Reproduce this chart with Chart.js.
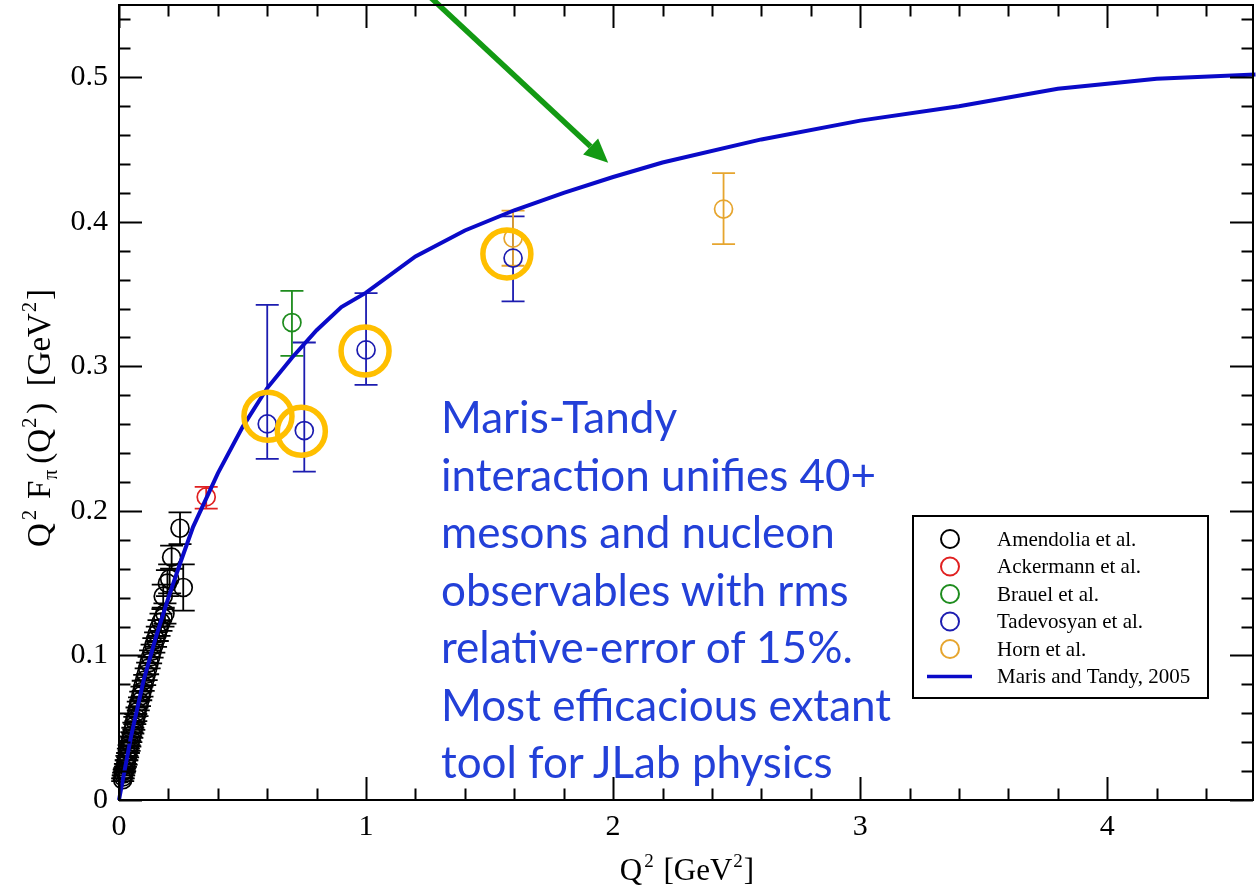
<!DOCTYPE html>
<html><head><meta charset="utf-8">
<script src="https://cdn.jsdelivr.net/npm/chart.js@4.4.1/dist/chart.umd.min.js"></script>
<style>
html,body{margin:0;padding:0;background:#fff;}
#wrap{position:relative;width:1260px;height:893px;overflow:hidden;background:#fff;}
#c{position:absolute;left:0;top:0;}
#note{position:absolute;left:441px;top:388px;font-family:Lato,'Open Sans',sans-serif;font-size:44px;line-height:57.5px;color:#2340d8;white-space:nowrap;}
</style></head><body>
<div id="wrap">
<canvas id="c" width="1260" height="893"></canvas>
<div id="note">Maris-Tandy<br>interaction unifies 40+<br>mesons and nucleon<br>observables with rms<br>relative-error of 15%.<br>Most efficacious extant<br>tool for JLab physics</div>
</div>
<script>
// ---------------- data ----------------
const xTickValues = [0, 1, 2, 3, 4];
const yTickValues = [0, 0.1, 0.2, 0.3, 0.4, 0.5];

const amendoliaQ2  = [0.015,0.017,0.019,0.021,0.023,0.026,0.029,0.032,0.035,0.038,0.041,0.044,0.048,0.052,0.056,0.060,0.064,0.068,0.073,0.078,0.083,0.088,0.093,0.098,0.104,0.110,0.116,0.122,0.128,0.134,0.141,0.148,0.155,0.162,0.170,0.178,0.186,0.179,0.196,0.205,0.213,0.247,0.260];
const amendoliaVal = [0.014,0.016,0.018,0.020,0.021,0.024,0.026,0.029,0.031,0.034,0.036,0.039,0.042,0.045,0.048,0.051,0.055,0.057,0.061,0.065,0.068,0.072,0.075,0.079,0.083,0.087,0.091,0.095,0.099,0.103,0.107,0.111,0.115,0.119,0.123,0.126,0.129,0.141,0.150,0.153,0.168,0.188,0.147];
const amendoliaErr = [0.001,0.001,0.001,0.001,0.001,0.001,0.0015,0.0015,0.0015,0.0015,0.002,0.002,0.002,0.002,0.002,0.0025,0.0025,0.0025,0.003,0.003,0.003,0.003,0.0035,0.0035,0.0035,0.004,0.004,0.004,0.0045,0.0045,0.005,0.005,0.005,0.0055,0.006,0.006,0.007,0.008,0.009,0.010,0.008,0.011,0.016];

const ackermannQ2 = [0.353];
const ackermannVal = [0.2097];
const ackermannLo = [0.2016];
const ackermannHi = [0.2166];

const brauelQ2 = [0.70];
const brauelVal = [0.3303];
const brauelLo = [0.3073];
const brauelHi = [0.3522];

const tadevosyanQ2  = [0.60, 0.75, 1.00, 1.595];
const tadevosyanVal = [0.2602, 0.2556, 0.3114, 0.3749];
const tadevosyanLo  = [0.2360, 0.2272, 0.2872, 0.3449];
const tadevosyanHi  = [0.3426, 0.3165, 0.3506, 0.4037];

const hornQ2  = [1.595, 2.447];
const hornVal = [0.3887, 0.4088];
const hornLo  = [0.3696, 0.3846];
const hornHi  = [0.4078, 0.4337];

const marisQ2  = [0, 0.05, 0.1, 0.15, 0.2, 0.25, 0.3, 0.4, 0.5, 0.6, 0.7, 0.8, 0.9, 1.0, 1.2, 1.4, 1.6, 1.8, 2.0, 2.2, 2.6, 3.0, 3.4, 3.8, 4.2, 4.6];
const marisVal = [0, 0.045, 0.083, 0.113, 0.140, 0.165, 0.189, 0.226, 0.258, 0.285, 0.306, 0.325, 0.341, 0.351, 0.376, 0.394, 0.408, 0.420, 0.431, 0.441, 0.457, 0.470, 0.480, 0.492, 0.499, 0.502];

const highlightQ2  = [0.603, 0.738, 0.996, 1.57];
const highlightVal = [0.2655, 0.2551, 0.3106, 0.3778];

const arrowFrom = [1.20, 0.565];
const arrowTo   = [1.98, 0.4408];

const legendLabels = ['Amendolia et al.', 'Ackermann et al.', 'Brauel et al.', 'Tadevosyan et al.', 'Horn et al.', 'Maris and Tandy, 2005'];

// ---------------- helpers ----------------
const pts = (xs, ys) => xs.map((x, i) => ({x: x, y: ys[i]}));
const SERIF = "'Liberation Serif','DejaVu Serif',serif";

const COL = {
  amendolia: '#000000', ackermann: '#e02020', brauel: '#1e8c1e',
  tadevosyan: '#1c1cb0', horn: '#e6a52e', maris: '#0a0ac8', ring: '#ffbf00', arrow: '#139a13'
};

function markerDs(label, xs, ys, lo, hi, color) {
  return {
    type: 'scatter', label: label, data: pts(xs, ys), errLo: lo, errHi: hi,
    borderColor: color, backgroundColor: 'rgba(0,0,0,0)', pointRadius: 9, pointHoverRadius: 9,
    pointBorderWidth: 1.7, pointStyle: 'circle', showLine: false, order: 3
  };
}

const datasets = [
  { type: 'scatter', label: 'highlight', data: pts(highlightQ2, highlightVal), borderColor: COL.ring,
    backgroundColor: 'rgba(0,0,0,0)', pointRadius: 24, pointHoverRadius: 24, pointBorderWidth: 5.5, showLine: false, order: 0 },
  { type: 'line', label: legendLabels[5], data: pts(marisQ2, marisVal), borderColor: COL.maris, borderWidth: 4,
    pointRadius: 0, tension: 0, fill: false, order: 1 },
  markerDs(legendLabels[0], amendoliaQ2, amendoliaVal, amendoliaVal.map((v, i) => v - amendoliaErr[i]), amendoliaVal.map((v, i) => v + amendoliaErr[i]), COL.amendolia),
  markerDs(legendLabels[1], ackermannQ2, ackermannVal, ackermannLo, ackermannHi, COL.ackermann),
  markerDs(legendLabels[2], brauelQ2, brauelVal, brauelLo, brauelHi, COL.brauel),
  markerDs(legendLabels[3], tadevosyanQ2, tadevosyanVal, tadevosyanLo, tadevosyanHi, COL.tadevosyan),
  markerDs(legendLabels[4], hornQ2, hornVal, hornLo, hornHi, COL.horn)
];

// error bars (drawn below markers)
const errorBarPlugin = {
  id: 'errorBars',
  beforeDatasetsDraw(chart) {
    const ctx = chart.ctx, xs = chart.scales.x, ys = chart.scales.y;
    ctx.save();
    chart.data.datasets.forEach(ds => {
      if (!ds.errLo) return;
      ctx.strokeStyle = ds.borderColor; ctx.lineWidth = 1.8;
      ds.data.forEach((p, i) => {
        const px = xs.getPixelForValue(p.x);
        const y1 = ys.getPixelForValue(ds.errLo[i]), y2 = ys.getPixelForValue(ds.errHi[i]);
        ctx.beginPath();
        ctx.moveTo(px, y1); ctx.lineTo(px, y2);
        ctx.moveTo(px - 11.5, y1); ctx.lineTo(px + 11.5, y1);
        ctx.moveTo(px - 11.5, y2); ctx.lineTo(px + 11.5, y2);
        ctx.stroke();
      });
    });
    ctx.restore();
  }
};

function drawRich(ctx, parts, size) {
  const small = Math.round(size * 0.62);
  let w = 0;
  parts.forEach(p => { ctx.font = (p.s || p.b ? small : size) + 'px ' + SERIF; p.w = ctx.measureText(p.t).width + (p.gap || 0); w += p.w; });
  let x = -w / 2;
  parts.forEach(p => {
    ctx.font = (p.s || p.b ? small : size) + 'px ' + SERIF;
    const dy = p.s ? -size * 0.42 : (p.b ? size * 0.22 : 0);
    ctx.fillText(p.t, x + (p.pre || 0), dy);
    x += p.w;
  });
}

const framePlugin = {
  id: 'frame',
  afterDatasetsDraw(chart) {
    const ctx = chart.ctx, a = chart.chartArea, xs = chart.scales.x, ys = chart.scales.y;
    ctx.save();
    // arrow annotation
    const ax1 = xs.getPixelForValue(arrowFrom[0]), ay1 = ys.getPixelForValue(arrowFrom[1]);
    const ax2 = xs.getPixelForValue(arrowTo[0]), ay2 = ys.getPixelForValue(arrowTo[1]);
    const ang = Math.atan2(ay2 - ay1, ax2 - ax1), head = 24, hw = 11;
    const bx = ax2 - head * Math.cos(ang), by = ay2 - head * Math.sin(ang);
    ctx.strokeStyle = COL.arrow; ctx.fillStyle = COL.arrow; ctx.lineWidth = 5.5;
    ctx.beginPath(); ctx.moveTo(ax1, ay1); ctx.lineTo(bx, by); ctx.stroke();
    ctx.beginPath();
    ctx.moveTo(ax2, ay2);
    ctx.lineTo(bx + hw * Math.sin(ang), by - hw * Math.cos(ang));
    ctx.lineTo(bx - hw * Math.sin(ang), by + hw * Math.cos(ang));
    ctx.closePath(); ctx.fill();

    // frame
    ctx.strokeStyle = '#000'; ctx.lineWidth = 2;
    ctx.strokeRect(a.left, a.top, a.right - a.left, a.bottom - a.top);
    ctx.beginPath();
    for (let v = 0; v <= xs.max + 1e-9; v += 0.2) {
      const major = Math.abs(v - Math.round(v)) < 1e-6;
      const L = major ? 23 : 11.5, px = Math.round(xs.getPixelForValue(v)) + 0.5;
      ctx.moveTo(px, a.bottom); ctx.lineTo(px, a.bottom - L);
      ctx.moveTo(px, a.top); ctx.lineTo(px, a.top + L);
    }
    for (let v = 0; v <= ys.max + 1e-9; v += 0.02) {
      const major = Math.abs(v * 10 - Math.round(v * 10)) < 1e-6;
      const L = major ? 23 : 11.5, py = Math.round(ys.getPixelForValue(v)) + 0.5;
      ctx.moveTo(a.left, py); ctx.lineTo(a.left + L, py);
      ctx.moveTo(a.right, py); ctx.lineTo(a.right - L, py);
    }
    ctx.stroke();

    // axis titles
    ctx.fillStyle = '#000'; ctx.textBaseline = 'alphabetic';
    ctx.save();
    ctx.translate(687, 880);
    drawRich(ctx, [{t: 'Q'}, {t: '2', s: 1, gap: 4, pre: 2}, {t: ' [GeV'}, {t: '2', s: 1, gap: 2, pre: 1}, {t: ']'}], 31);
    ctx.restore();
    ctx.save();
    ctx.translate(50, 418); ctx.rotate(-Math.PI / 2);
    drawRich(ctx, [{t: 'Q'}, {t: '2', s: 1, gap: 14, pre: 3}, {t: 'F'}, {t: 'π', b: 1, gap: 7, pre: 1}, {t: '(Q'}, {t: '2', s: 1, gap: 5, pre: 1}, {t: ')  [GeV'}, {t: '2', s: 1, gap: 3, pre: 1}, {t: ']'}], 33);
    ctx.restore();

    // legend
    const lx = 913, ly = 516, lw = 295, lh = 182;
    ctx.fillStyle = '#fff'; ctx.fillRect(lx, ly, lw, lh);
    ctx.strokeStyle = '#000'; ctx.lineWidth = 2; ctx.strokeRect(lx, ly, lw, lh);
    ctx.font = '21px ' + SERIF; ctx.textBaseline = 'middle'; ctx.fillStyle = '#000';
    const entries = chart.data.datasets.filter(d => legendLabels.includes(d.label))
      .sort((p, q) => legendLabels.indexOf(p.label) - legendLabels.indexOf(q.label));
    entries.forEach((d, i) => {
      const ry = ly + 23 + i * 27.5;
      ctx.strokeStyle = d.borderColor;
      if (d.type === 'line') {
        ctx.lineWidth = 3.5; ctx.beginPath(); ctx.moveTo(lx + 14, ry); ctx.lineTo(lx + 59, ry); ctx.stroke();
      } else {
        ctx.lineWidth = 2; ctx.beginPath(); ctx.arc(lx + 37, ry, 9, 0, Math.PI * 2); ctx.stroke();
      }
      ctx.fillStyle = '#000';
      ctx.fillText(d.label, lx + 84, ry + 1);
    });
    ctx.restore();
  }
};

new Chart(document.getElementById('c'), {
  data: { datasets: datasets },
  options: {
    responsive: false, animation: false, clip: false,
    layout: { autoPadding: false, padding: { top: 5, right: 7, left: 0, bottom: 0 } },
    plugins: { legend: { display: false }, tooltip: { enabled: false } },
    scales: {
      x: {
        type: 'linear', min: 0, max: 4.59,
        afterBuildTicks: s => { s.ticks = xTickValues.map(v => ({value: v})); },
        afterFit: s => { s.height = 93; s.paddingLeft = 0; s.paddingRight = 0; },
        grid: { display: false, drawTicks: false }, border: { display: false },
        ticks: { color: '#000', padding: 9, maxRotation: 0, font: { family: SERIF, size: 30 }, callback: v => String(v) }
      },
      y: {
        type: 'linear', min: 0, max: 0.55,
        afterBuildTicks: s => { s.ticks = yTickValues.map(v => ({value: v})); },
        afterFit: s => { s.width = 119; s.paddingTop = 0; s.paddingBottom = 0; },
        grid: { display: false, drawTicks: false }, border: { display: false },
        ticks: { color: '#000', padding: 11, font: { family: SERIF, size: 30 }, callback: v => (v === 0 ? '0' : v.toFixed(1)) }
      }
    }
  },
  plugins: [errorBarPlugin, framePlugin]
});
</script>
</body></html>
